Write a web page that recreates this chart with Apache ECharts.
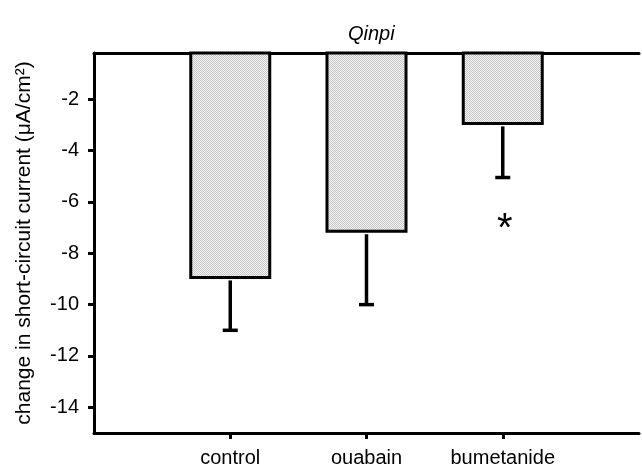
<!DOCTYPE html>
<html>
<head>
<meta charset="utf-8">
<script src="https://cdn.jsdelivr.net/npm/echarts@6/dist/echarts.min.js"></script>
<style>html,body{margin:0;padding:0;background:#fff}#c{width:642px;height:471px}</style>
</head>
<body>
<div id="c"></div>
<script>
// ---- data ----
const categories = ['control', 'ouabain', 'bumetanide'];
const means = [-9.0, -7.2, -3.0];
const errorEnds = [-11.0, -10.0, -5.05];
const significance = ['', '', '*'];
const yTickValues = [-14, -12, -10, -8, -6, -4, -2];
const chartTitle = 'Qinpi';
const yAxisTitle = 'change in short-circuit current (\u03bcA/cm\u00b2)';

// ---- build ----
const axisCats = [''].concat(categories, ['']);
const barData = ['-'].concat(means, ['-']);
const errData = means.map((m, i) => [i + 1, m, errorEnds[i]]);
const sigData = significance.map((s, i) => [i + 1, errorEnds[i], s]);

// dithered gray fill
const pc = document.createElement('canvas');
pc.width = 2; pc.height = 2;
const pctx = pc.getContext('2d');
pctx.fillStyle = '#f4f4f4'; pctx.fillRect(0, 0, 2, 2);
pctx.fillStyle = '#c6c6c6'; pctx.fillRect(0, 0, 1, 1); pctx.fillRect(1, 1, 1, 1);

const FONT = '"Liberation Sans", Arial, Helvetica, sans-serif';
const chart = echarts.init(document.getElementById('c'), null, {renderer: 'canvas'});
chart.setOption({
  animation: false,
  backgroundColor: '#fff',
  title: {
    text: chartTitle, left: 343, top: 19,
    textStyle: {fontFamily: FONT, fontStyle: 'italic', fontWeight: 'normal', fontSize: 20, color: '#000'}
  },
  grid: {left: 94, right: 0, top: 53, bottom: 38},
  xAxis: [{
    type: 'category', data: axisCats, boundaryGap: false, position: 'bottom',
    axisLine: {lineStyle: {color: '#000', width: 3}},
    axisTick: {show: true, length: 6, lineStyle: {color: '#000', width: 3},
      interval: (i) => i >= 1 && i <= categories.length},
    axisLabel: {fontFamily: FONT, fontSize: 20, color: '#000', margin: 15, interval: 0},
    splitLine: {show: false}
  }, {
    type: 'category', data: axisCats, boundaryGap: false, position: 'top',
    axisLine: {lineStyle: {color: '#000', width: 3}},
    axisTick: {show: false}, axisLabel: {show: false}, splitLine: {show: false}
  }],
  yAxis: {
    type: 'value', min: -15, max: -0.2,
    name: yAxisTitle, nameLocation: 'middle', nameRotate: 90, nameGap: 59,
    nameTextStyle: {fontFamily: FONT, fontSize: 21, color: '#000'},
    axisLine: {show: true, lineStyle: {color: '#000', width: 3}},
    axisTick: {show: true, length: 6, lineStyle: {color: '#000', width: 3}, customValues: yTickValues},
    axisLabel: {fontFamily: FONT, fontSize: 20, color: '#000', margin: 15, customValues: yTickValues},
    splitLine: {show: false}
  },
  series: [{
    type: 'bar', xAxisIndex: 0, data: barData, barWidth: 82, clip: true,
    itemStyle: {color: {image: pc, repeat: 'repeat'}, borderColor: '#000', borderWidth: 3},
    z: 2
  }, {
    type: 'custom', xAxisIndex: 0, data: errData, z: 3,
    renderItem: function (params, api) {
      const x = api.value(0);
      const p1 = api.coord([x, api.value(1)]);
      const p2 = api.coord([x, api.value(2)]);
      const cap = 7.5;
      return {
        type: 'group', children: [
          {type: 'line', shape: {x1: p1[0], y1: p1[1] + 1.5, x2: p2[0], y2: p2[1]}, style: {stroke: '#000', lineWidth: 3.5}},
          {type: 'line', shape: {x1: p2[0] - cap, y1: p2[1], x2: p2[0] + cap, y2: p2[1]}, style: {stroke: '#000', lineWidth: 3.5}}
        ]
      };
    }
  }, {
    type: 'custom', xAxisIndex: 0, data: sigData, z: 3,
    renderItem: function (params, api) {
      const x = api.value(0);
      const p = api.coord([x, api.value(1)]);
      const s = sigData[params.dataIndex][2];
      return {
        type: 'text', x: p[0] + 2, y: p[1] + 52,
        style: {text: s, fontFamily: FONT, fontSize: 40, fill: '#000', align: 'center', verticalAlign: 'middle'}
      };
    }
  }]
});
</script>
</body>
</html>
